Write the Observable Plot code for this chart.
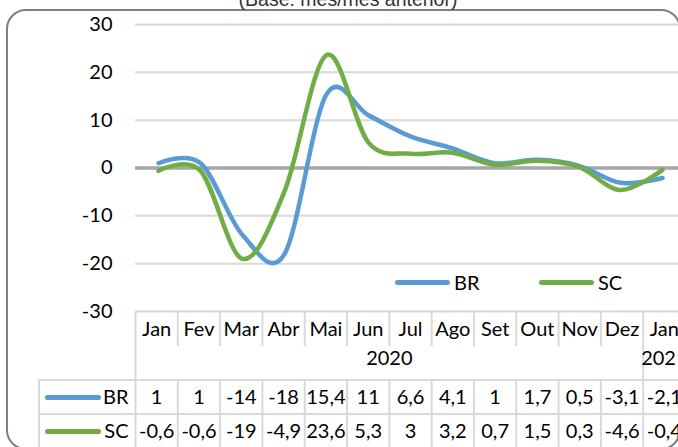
<!DOCTYPE html>
<html>
<head>
<meta charset="utf-8">
<script src="https://cdn.jsdelivr.net/npm/d3@7"></script>
<script src="https://cdn.jsdelivr.net/npm/@observablehq/plot@0.6"></script>
<style>
  html, body { margin: 0; padding: 0; background: #fff; }
  #wrap { position: relative; width: 678px; height: 447px; overflow: hidden; background: #fff; font-family: Lato, sans-serif; }
  #border { position: absolute; left: 6px; top: 9px; width: 671px; height: 437px; border: 2px solid #7F7F7F; border-radius: 20px; }
  #title { position: absolute; left: 148px; top: -10px; width: 400px; text-align: center; font: 19.5px/19.5px "Liberation Sans", Arial, sans-serif; color: #333; white-space: nowrap; }
  .key { position: absolute; height: 5px; border-radius: 3px; }
  .lab { position: absolute; font: 20px/20px Lato, sans-serif; color: #000; }
</style>
</head>
<body>
<div id="wrap">
  <div id="border"></div>
  <div id="title">(Base: mês/mês anterior)</div>
</div>
<script>
// ---- data ----
const months = ["Jan", "Fev", "Mar", "Abr", "Mai", "Jun", "Jul", "Ago", "Set", "Out", "Nov", "Dez", "Jan"];
const years  = ["2020", "2020", "2020", "2020", "2020", "2020", "2020", "2020", "2020", "2020", "2020", "2020", "2021"];
const seriesNames = ["BR", "SC"];
const brValues = [1, 1, -14, -18, 15.4, 11, 6.6, 4.1, 1, 1.7, 0.5, -3.1, -2.1];
const scValues = [-0.6, -0.6, -19, -4.9, 23.6, 5.3, 3, 3.2, 0.7, 1.5, 0.3, -4.6, -0.4];
const yTicks = [-30, -20, -10, 0, 10, 20, 30];

// ---- derived ----
const colors = {BR: "#5B9BD5", SC: "#70AD47"};
const rows = months.map((m, i) => ({i, month: m, year: years[i], BR: brValues[i], SC: scValues[i]}));
const fmt = v => String(v).replace(".", ",");
const n = months.length;
const xRange = [135, 685];
const step = (xRange[1] - xRange[0]) / n;
const toX = px => (px - xRange[0]) / step; // pixel -> table column units

const wrap = document.getElementById("wrap");

// ---- chart ----
const chart = Plot.plot({
  width: 678,
  height: 447,
  marginTop: 24,
  marginBottom: 136,
  marginLeft: 135,
  marginRight: 0,
  style: {fontFamily: "Lato, sans-serif", fontSize: "20px", color: "#000", background: "transparent", overflow: "visible"},
  x: {type: "point", domain: d3.range(n), range: xRange, padding: 0.5, axis: null},
  y: {domain: [-30, 30], ticks: yTicks, tickSize: 0, tickPadding: 23, tickFormat: d => String(d), label: null},
  marks: [
    Plot.ruleY(yTicks.filter(d => d !== 0), {stroke: "#D9D9D9", strokeWidth: 2}),
    Plot.ruleY([0], {stroke: "#A6A6A6", strokeWidth: 3.5}),
    ...seriesNames.map(s => Plot.line(rows, {
      x: "i", y: s, stroke: colors[s], strokeWidth: 4.5,
      curve: "cardinal", tension: 0, strokeLinecap: "round", strokeLinejoin: "round"
    }))
  ]
});
chart.style.position = "absolute";
chart.style.left = "0px";
chart.style.top = "0px";

// ---- data table under the chart ----
const yearGroups = d3.groups(rows, d => d.year).map(([year, g]) => ({
  year, start: g[0].i, end: g[g.length - 1].i + 1, x: (g[0].i + g[g.length - 1].i + 1) / 2
}));
const bounds = d3.range(n + 1);
const monthSeps = bounds.map(x => ({x, row: "m"}));
const yearSeps = [...new Set(yearGroups.flatMap(g => [g.start, g.end]))].map(x => ({x, row: "y"}));
const seriesSeps = seriesNames.flatMap(s => bounds.map(x => ({x, row: s})));
const grid = {stroke: "#D9D9D9", strokeWidth: 2};

const table = Plot.plot({
  width: 678,
  height: 136,
  margin: 0,
  style: {fontFamily: "Lato, sans-serif", fontSize: "20px", color: "#000", background: "transparent", overflow: "visible"},
  x: {type: "linear", domain: [0, n], range: xRange, axis: null},
  y: {type: "band", domain: ["m", "y", ...seriesNames], range: [0, 136], padding: 0, axis: null},
  marks: [
    Plot.barX(seriesNames, {x1: () => toX(39), x2: () => n, y: d => d, fill: "none", ...grid}),
    Plot.tickX([...monthSeps, ...yearSeps, ...seriesSeps], {x: "x", y: "row", ...grid}),
    Plot.text(rows, {x: d => d.i + 0.5, y: () => "m", text: "month", fill: "#000"}),
    Plot.text(yearGroups, {x: "x", y: () => "y", text: "year", dy: -5, fill: "#000"}),
    ...seriesNames.map(s => Plot.text(rows, {x: d => d.i + 0.5, y: () => s, text: d => fmt(d[s]), fill: "#000"})),
    Plot.ruleY(seriesNames, {x1: () => toX(47.5), x2: () => toX(98.5), y: d => d, stroke: d => colors[d], strokeWidth: 5, strokeLinecap: "round"}),
    Plot.text(seriesNames, {x: () => 0, y: d => d, text: d => d, dx: -7, textAnchor: "end", fill: "#000"})
  ]
});
table.style.position = "absolute";
table.style.left = "0px";
table.style.top = "312px";

wrap.appendChild(table);
wrap.appendChild(chart);

// ---- legend inside the plot area ----
const legendItems = [{name: "BR", left: 395}, {name: "SC", left: 539}];
legendItems.forEach(({name, left}) => {
  const k = document.createElement("div");
  k.className = "key";
  k.style.left = left + "px";
  k.style.top = "279.5px";
  k.style.width = "55px";
  k.style.background = colors[name];
  const t = document.createElement("div");
  t.className = "lab";
  t.style.left = (left + 59) + "px";
  t.style.top = "272px";
  t.textContent = name;
  wrap.appendChild(k);
  wrap.appendChild(t);
});
// keep border/title on top
wrap.appendChild(document.getElementById("border"));
wrap.appendChild(document.getElementById("title"));
</script>
</body>
</html>
